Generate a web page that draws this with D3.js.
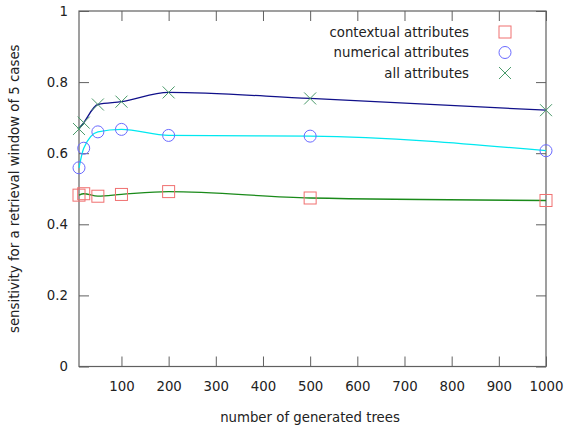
<!DOCTYPE html>
<html>
<head>
<meta charset="utf-8">
<script src="https://cdn.jsdelivr.net/npm/d3@7"></script>
<style>
  body { margin: 0; background: #fff; }
  text { font-family: "DejaVu Sans", sans-serif; font-size: 13.3px; fill: #222; }
</style>
</head>
<body>
<script>
var trees = [10, 20, 50, 100, 200, 500, 1000];
var contextual = [0.482, 0.486, 0.479, 0.484, 0.492, 0.474, 0.467];
var numerical = [0.559, 0.614, 0.660, 0.667, 0.650, 0.648, 0.607];
var allAttr = [0.668, 0.686, 0.737, 0.745, 0.771, 0.754, 0.721];
var xTicks = [100, 200, 300, 400, 500, 600, 700, 800, 900, 1000];
var yTicks = [0, 0.2, 0.4, 0.6, 0.8, 1];

var series = [
    {name: "contextual attributes", values: contextual, line: "#1a8a1a", marker: "square", color: "#f07070"},
    {name: "numerical attributes", values: numerical, line: "#00e8f0", marker: "circle", color: "#6a6aff"},
    {name: "all attributes", values: allAttr, line: "#10108a", marker: "cross", color: "#4a9a6a"}
];

var width = 564, height = 428;
var plotLeft = 79, plotRight = 546, plotTop = 11, plotBottom = 366.5;

var x = d3.scaleLinear().domain([10, 1000]).range([plotLeft, plotRight]);
var y = d3.scaleLinear().domain([0, 1]).range([plotBottom, plotTop]);

var svg = d3.select("body").append("svg")
    .attr("width", width)
    .attr("height", height);

var tickLen = 10;
var axisColor = "#606060";

// ticks inside, mirrored on all four sides
var bottomAxis = d3.axisBottom(x).tickValues(xTicks).tickSizeInner(-tickLen).tickSizeOuter(0).tickPadding(15)
    .tickFormat(d3.format("d"));
svg.append("g").attr("transform", "translate(0," + plotBottom + ")").call(bottomAxis);
var topAxis = d3.axisTop(x).tickValues(xTicks).tickSizeInner(-tickLen).tickSizeOuter(0).tickFormat("");
svg.append("g").attr("transform", "translate(0," + plotTop + ")").call(topAxis);
var leftAxis = d3.axisLeft(y).tickValues(yTicks).tickSizeInner(-tickLen).tickSizeOuter(0).tickPadding(11)
    .tickFormat(function (d) { return String(d); });
svg.append("g").attr("transform", "translate(" + plotLeft + ",0)").call(leftAxis);
var rightAxis = d3.axisRight(y).tickValues(yTicks).tickSizeInner(-tickLen).tickSizeOuter(0).tickFormat("");
svg.append("g").attr("transform", "translate(" + plotRight + ",0)").call(rightAxis);

svg.selectAll(".domain").remove();
svg.selectAll(".tick line").attr("stroke", axisColor);
svg.selectAll(".tick text").attr("font-family", null).attr("font-size", null).style("fill", "#222");

svg.append("rect")
    .attr("x", plotLeft).attr("y", plotTop)
    .attr("width", plotRight - plotLeft).attr("height", plotBottom - plotTop)
    .attr("fill", "none").attr("stroke", axisColor).attr("stroke-width", 1.2);

svg.append("text")
    .attr("x", 310).attr("y", 422)
    .attr("text-anchor", "middle")
    .text("number of generated trees");

svg.append("text")
    .attr("transform", "translate(19," + ((plotTop + plotBottom) / 2) + ") rotate(-90)")
    .attr("text-anchor", "middle")
    .text("sensitivity for a retrieval window of 5 cases");

var line = d3.line()
    .x(function (d, i) { return x(trees[i]); })
    .y(function (d) { return y(d); })
    .curve(d3.curveMonotoneX);

function drawMarker(g, type, cx, cy, color) {
    if (type === "square") {
        g.append("rect").attr("x", cx - 6).attr("y", cy - 6).attr("width", 12).attr("height", 12)
            .attr("fill", "none").attr("stroke", color).attr("stroke-width", 1);
    } else if (type === "circle") {
        g.append("circle").attr("cx", cx).attr("cy", cy).attr("r", 6)
            .attr("fill", "none").attr("stroke", color).attr("stroke-width", 1);
    } else {
        g.append("path").attr("d", "M" + (cx - 6) + "," + (cy - 6) + "L" + (cx + 6) + "," + (cy + 6) +
            "M" + (cx - 6) + "," + (cy + 6) + "L" + (cx + 6) + "," + (cy - 6))
            .attr("fill", "none").attr("stroke", color).attr("stroke-width", 1);
    }
}

series.forEach(function (s) {
    svg.append("path")
        .datum(s.values)
        .attr("d", line)
        .attr("fill", "none")
        .attr("stroke", s.line)
        .attr("stroke-width", 1.3);
});

series.forEach(function (s) {
    var g = svg.append("g");
    s.values.forEach(function (v, i) {
        drawMarker(g, s.marker, x(trees[i]), y(v), s.color);
    });
});

// legend
series.forEach(function (s, i) {
    var ly = 32 + i * 20.5;
    svg.append("text")
        .attr("x", 469).attr("y", ly + 4.5)
        .attr("text-anchor", "end")
        .text(s.name);
    drawMarker(svg.append("g"), s.marker, 505, ly, s.color);
});
</script>
</body>
</html>
